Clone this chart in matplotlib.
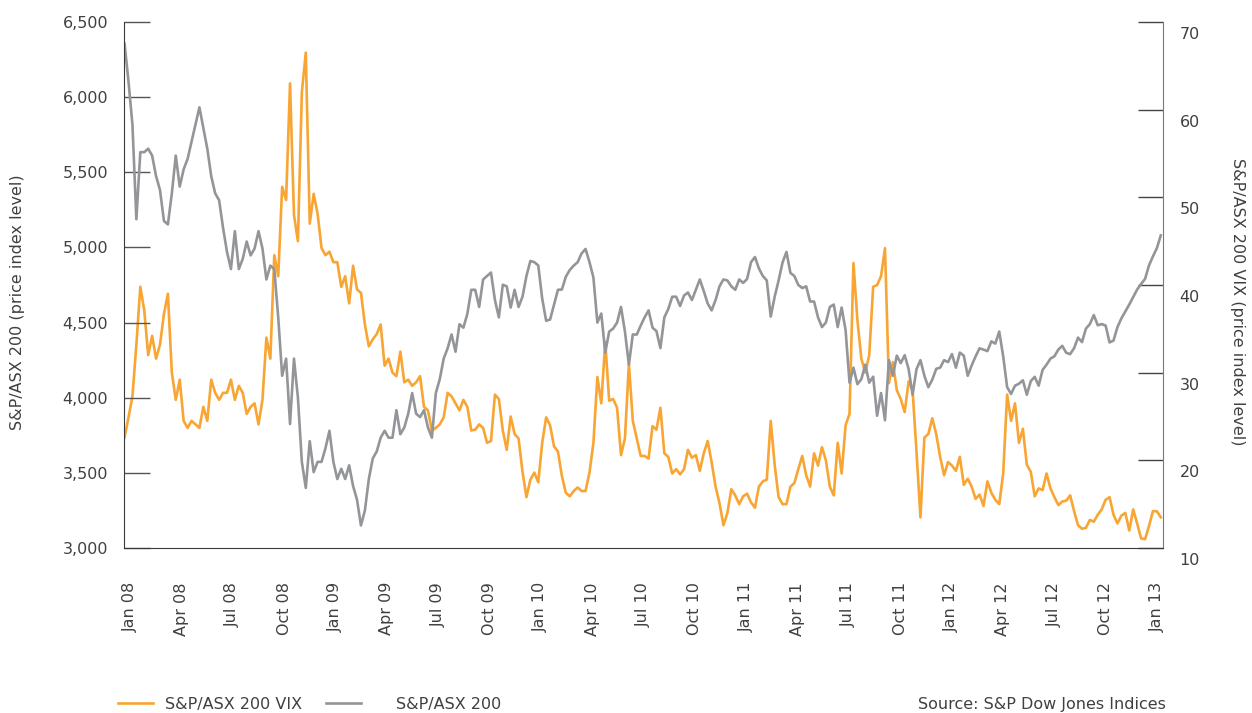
import numpy as np
import pandas as pd
import matplotlib
matplotlib.use("Agg")
import matplotlib.pyplot as plt
from matplotlib.lines import Line2D
from matplotlib.transforms import ScaledTranslation

plt.rcParams["font.family"] = ["DejaVu Sans"]

# S&P/ASX 200 price index at roughly weekly steps
asx200 = [
    6356, 6104, 5818, 5188, 5634, 5634, 5657, 5611, 5474, 5382,
    5176, 5153, 5360, 5611, 5405, 5520, 5589, 5703, 5818, 5932,
    5795, 5657, 5474, 5360, 5314, 5130, 4970, 4856, 5108, 4856,
    4924, 5039, 4947, 4993, 5108, 4993, 4787, 4879, 4856, 4535,
    4146, 4260, 3825, 4260, 4000, 3573, 3400, 3711, 3505, 3573,
    3573, 3665, 3780, 3573, 3459, 3527, 3459, 3550, 3413, 3321,
    3150, 3250, 3459, 3596, 3642, 3734, 3780, 3734, 3734, 3917,
    3757, 3802, 3894, 4031, 3894, 3871, 3917, 3802, 3734, 4031,
    4123, 4260, 4329, 4421, 4306, 4489, 4466, 4558, 4718, 4718,
    4604, 4787, 4810, 4833, 4650, 4535, 4752, 4741, 4600, 4718,
    4604, 4672, 4810, 4910, 4902, 4880, 4660, 4512, 4520, 4620,
    4718, 4720, 4805, 4850, 4879, 4902, 4960, 4990, 4902, 4800,
    4500, 4560, 4300, 4440, 4460, 4500, 4604, 4440, 4220, 4421,
    4420, 4480, 4535, 4581, 4466, 4443, 4330, 4535, 4590, 4672,
    4672, 4610, 4680, 4700, 4650, 4718, 4787, 4710, 4627, 4581,
    4650, 4741, 4787, 4780, 4741, 4718, 4787, 4764, 4790, 4902,
    4936, 4860, 4810, 4780, 4540, 4672, 4780, 4900, 4970, 4830,
    4810, 4750, 4730, 4741, 4640, 4640, 4535, 4470, 4500, 4604,
    4620, 4470, 4600, 4450, 4100, 4200, 4090, 4123, 4220, 4100,
    4140, 3880, 4031, 3850, 4250, 4146, 4280, 4230, 4283, 4190,
    4020, 4190, 4250, 4146, 4070, 4120, 4192, 4200, 4250, 4237,
    4290, 4200, 4300, 4280, 4146, 4215, 4275, 4329, 4320, 4310,
    4375, 4360, 4440, 4276, 4070, 4025, 4080, 4093, 4116, 4020,
    4110, 4139, 4080, 4185, 4220, 4260, 4276, 4320, 4345, 4299,
    4290, 4330, 4400, 4370, 4460, 4490, 4550, 4482, 4490, 4480,
    4368, 4380, 4470, 4528, 4574, 4620, 4670, 4720, 4757, 4790,
    4880, 4940, 4995, 5080,
]

# S&P/ASX 200 VIX, same sampling
vix = [
    22.6, 24.9, 27.3, 33.2, 39.8, 37.1, 32.0, 34.2, 31.6, 33.2,
    36.7, 39.0, 30.0, 26.9, 29.2, 24.5, 23.7, 24.5, 24.1, 23.7,
    26.1, 24.5, 29.2, 27.7, 26.9, 27.7, 27.7, 29.2, 26.9, 28.5,
    27.7, 25.3, 26.1, 26.5, 24.1, 26.9, 34.0, 31.6, 43.4, 41.0,
    51.2, 49.7, 63.0, 48.0, 45.0, 62.0, 66.5, 47.0, 50.4, 48.1,
    44.2, 43.4, 43.8, 42.6, 42.6, 39.8, 41.0, 37.9, 42.2, 39.5,
    39.1, 35.5, 33.0, 33.8, 34.4, 35.5, 30.8, 31.6, 30.0, 29.6,
    32.4, 28.9, 29.2, 28.5, 28.9, 29.6, 26.1, 25.7, 23.4, 23.7,
    24.1, 24.9, 27.7, 27.3, 26.5, 25.7, 26.9, 26.1, 23.4, 23.5,
    24.1, 23.7, 22.0, 22.2, 27.5, 27.0, 23.4, 21.2, 25.0, 23.0,
    22.5, 18.7, 15.8, 17.8, 18.6, 17.5, 22.0, 24.9, 24.0, 21.6,
    21.0, 18.2, 16.3, 15.9, 16.5, 16.9, 16.5, 16.5, 18.6, 22.0,
    29.5, 26.5, 33.5, 26.8, 27.0, 26.0, 20.6, 22.5, 31.0, 24.5,
    22.5, 20.5, 20.5, 20.2, 23.9, 23.5, 26.0, 20.8, 20.4, 18.5,
    19.0, 18.4, 19.0, 21.2, 20.3, 20.6, 18.8, 20.8, 22.2, 19.8,
    17.0, 15.1, 12.6, 14.0, 16.7, 16.0, 15.0, 15.9, 16.2, 15.2,
    14.6, 17.0, 17.6, 17.8, 24.5, 19.5, 15.8, 15.0, 15.0, 17.0,
    17.4, 19.0, 20.5, 18.3, 17.0, 20.8, 19.4, 21.5, 20.0, 17.0,
    16.0, 22.0, 18.5, 24.0, 25.3, 42.5, 36.0, 31.6, 30.0, 32.0,
    39.8, 40.0, 41.0, 44.2, 28.8, 31.2, 28.0, 27.0, 25.5, 29.0,
    28.0, 21.0, 13.5, 22.6, 23.0, 24.8, 23.0, 20.4, 18.3, 19.8,
    19.4, 18.8, 20.4, 17.2, 17.9, 17.0, 15.6, 16.1, 14.8, 17.6,
    16.3, 15.5, 15.0, 18.5, 27.5, 24.5, 26.5, 22.0, 23.6, 19.5,
    18.7, 15.9, 16.8, 16.6, 18.5, 16.8, 15.8, 14.9, 15.3, 15.4,
    16.0, 14.2, 12.6, 12.2, 12.3, 13.2, 13.0, 13.8, 14.4, 15.5,
    15.8, 13.8, 12.8, 13.7, 14.0, 12.0, 14.4, 12.8, 11.1, 11.0,
    12.5, 14.2, 14.2, 13.5,
]

tick_labels = [
    "Jan 08", "Apr 08", "Jul 08", "Oct 08",
    "Jan 09", "Apr 09", "Jul 09", "Oct 09",
    "Jan 10", "Apr 10", "Jul 10", "Oct 10",
    "Jan 11", "Apr 11", "Jul 11", "Oct 11",
    "Jan 12", "Apr 12", "Jul 12", "Oct 12",
    "Jan 13",
]

dates = pd.date_range("2008-01-02", "2013-02-20", periods=len(asx200))

orange = "#F8A533"
grey = "#939598"
text_col = "#404040"
fs = 11.5

fig = plt.figure(figsize=(12.52, 7.13), dpi=100)
ax = fig.add_axes([124 / 1252, 1 - 548 / 713, (1163 - 124) / 1252, (548 - 22) / 713])
ax2 = ax.twinx()

ax2.plot(dates, vix, color=orange, lw=1.9, solid_joinstyle="round")
ax.plot(dates, asx200, color=grey, lw=1.9, solid_joinstyle="round")
# grey line sits above the orange one
ax.set_zorder(ax2.get_zorder() + 1)
ax.patch.set_visible(False)

ax.set_ylim(3000, 6500)
ax2.set_ylim(10, 70)
ax.set_xlim(dates[0] - pd.Timedelta(days=1), dates[-1] + pd.Timedelta(days=4))

# spines
for s in ["top", "right"]:
    ax.spines[s].set_visible(False)
for s in ["top", "left", "bottom"]:
    ax2.spines[s].set_visible(False)
ax.spines["left"].set_color("#3a3a3a")
ax.spines["bottom"].set_color("#3a3a3a")
ax2.spines["right"].set_color("#7a7a7a")

# left axis
left_ticks = list(range(3000, 6501, 500))
ax.set_yticks(left_ticks)
ax.set_yticklabels([f"{v:,}" for v in left_ticks])
ax.tick_params(axis="y", direction="in", length=18.5, width=1.0, color="#555555",
               pad=11.5, labelsize=fs, labelcolor=text_col)

# right axis, labels sit a little below their tick
right_ticks = list(range(10, 71, 10))
ax2.set_yticks(right_ticks)
ax2.set_yticklabels([str(v) for v in right_ticks])
ax2.tick_params(axis="y", direction="in", length=18, width=1.0, color="#444444",
                pad=12, labelsize=fs, labelcolor=text_col)
shift = ScaledTranslation(0, -0.11, fig.dpi_scale_trans)
for lab in ax2.get_yticklabels():
    lab.set_transform(lab.get_transform() + shift)

# x axis: quarter labels spread evenly along the axis
tick_pos = dates[0] + pd.to_timedelta(np.linspace(10, 1869, len(tick_labels)), unit="D")
ax.set_xticks(tick_pos)
ax.set_xticklabels(tick_labels, rotation=90)
ax.tick_params(axis="x", length=0, pad=24.5, labelsize=fs, labelcolor=text_col)

fig.text(18 / 1252, 1 - 302 / 713, "S&P/ASX 200 (price index level)", rotation=90,
         ha="center", va="center", fontsize=fs, color=text_col)
fig.text(1237 / 1252, 1 - 302 / 713, "S&P/ASX 200 VIX (price index level)", rotation=270,
         ha="center", va="center", fontsize=fs, color=text_col)

# legend and source
h_vix = Line2D([], [], color=orange, lw=1.9)
h_asx = Line2D([], [], color=grey, lw=1.9)
leg_y = 1 - 704 / 713
fig.legend([h_vix], ["S&P/ASX 200 VIX"], loc="center left", bbox_to_anchor=(118 / 1252, leg_y),
           frameon=False, fontsize=fs, handlelength=2.2, handletextpad=0.75,
           borderpad=0, borderaxespad=0, labelcolor=text_col)
fig.legend([h_asx], ["S&P/ASX 200"], loc="center left", bbox_to_anchor=(326 / 1252, leg_y),
           frameon=False, fontsize=fs, handlelength=2.2, handletextpad=2.2,
           borderpad=0, borderaxespad=0, labelcolor=text_col)
fig.text(1166 / 1252, leg_y, "Source: S&P Dow Jones Indices", ha="right", va="center",
         fontsize=fs, color=text_col)

fig.savefig("out.png", dpi=100)
